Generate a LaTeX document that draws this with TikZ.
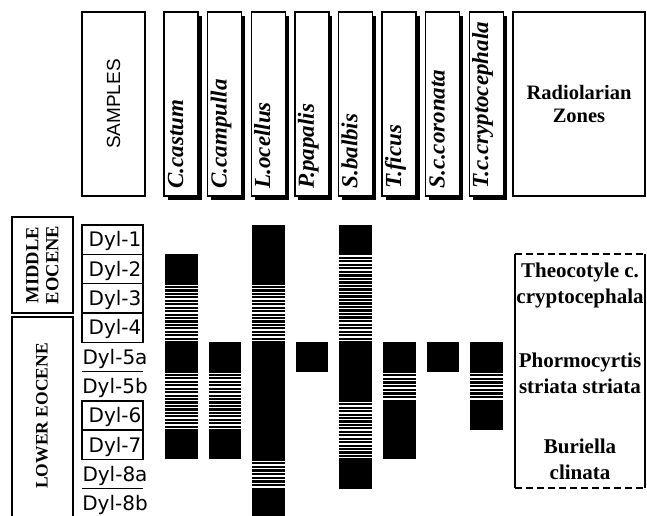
\documentclass[tikz,border=0pt]{standalone}
\usepackage{fontspec}
\setmainfont{Liberation Serif}
\newfontfamily\dylfont{DejaVu Sans}
\newfontfamily\sampfont{Liberation Sans}

\tikzset{
    spbox/.style={draw,line width=1.4pt,fill=white,inner sep=0pt,
        minimum width=34pt,minimum height=184pt},
    sptext/.style={rotate=90,anchor=base west,inner sep=0pt,
        font=\fontsize{23}{26}\selectfont\bfseries\itshape},
    dyl/.style={anchor=base,inner sep=0pt,font=\dylfont\fontsize{20}{22}\selectfont},
    epoch/.style={rotate=90,align=center,font=\fontsize{18.5}{20}\selectfont\bfseries},
    zone/.style={align=center,inner sep=0pt,font=\fontsize{21}{26}\selectfont\bfseries},
    bar/.style={fill=black},
    hatch/.style={draw=white,line width=1.3pt},
    frame/.style={line width=1.4pt},
}

\begin{document}
\begin{tikzpicture}[x=1pt,y=-1pt]
        \def\xcol{164}
        \def\dx{43.6}
        \def\ytop{225}
        \def\rowh{29.3}

        \useasboundingbox (0,0) rectangle (647,515);
        \clip (0,0) rectangle (647,515);

        % header boxes
        \node[draw,line width=1.4pt,inner sep=0pt,minimum width=63pt,minimum height=184pt]
            (samples) at (113.5,104) {};
        \node[rotate=90,font=\sampfont\fontsize{19}{21}\selectfont] at (samples) {SAMPLES};
        \foreach \i/\name in {0/C.castum,1/C.campulla,2/L.ocellus,3/P.papalis,
                4/S.balbis,5/T.ficus,6/S.c.coronata,7/T.c.cryptocephala}
        {
            \fill ({\xcol+3.5+\i*\dx},15.5) rectangle +(34,184);
            \node[spbox] (sp\i) at ({\xcol+17+\i*\dx},104) {};
            \node[sptext] at ([xshift=2pt,yshift=8pt]sp\i.south) {\name};
        }
        \node[draw,line width=1.4pt,minimum width=132pt,minimum height=184pt,align=center,
            font=\fontsize{20.5}{23}\selectfont\bfseries] (zones) at (579,104) {Radiolarian\\Zones};

        % epochs
        \node[draw,frame,inner sep=0pt,minimum width=61pt,minimum height=96pt] (middle) at (42.5,265) {};
        \node[epoch] at (middle) {MIDDLE\\EOCENE};
        \node[draw,frame,inner sep=0pt,minimum width=61pt,minimum height=250pt] (lower) at (42.5,442) {};
        \node[epoch,font=\fontsize{17.5}{20}\selectfont\bfseries] (lowerlab) at (42,416) {LOWER EOCENE};

        % samples
        \foreach \r in {0,1,2,3,6,7}
            \draw[frame] (82,{\ytop+\r*\rowh}) rectangle (143,{\ytop+(\r+1)*\rowh});
        \foreach \r in {5,9}
            \draw[frame] (82,{\ytop+\r*\rowh}) -- (143,{\ytop+\r*\rowh});
        \foreach \r/\lab in {0/Dyl-1,1/Dyl-2,2/Dyl-3,3/Dyl-4,4/Dyl-5a,
                5/Dyl-5b,6/Dyl-6,7/Dyl-7,8/Dyl-8a,9/Dyl-8b}
            \node[dyl] (d\r) at (115,{\ytop+(\r+0.5)*\rowh+7.3}) {\lab};

        % ranges, solid parts
        \foreach \c/\a/\b in {0/1/2,0/4/5,0/7/8,1/4/5,1/7/8,2/0/2,2/4/8,2/9/10,3/4/5,
                4/0/1,4/4/6,4/8/9,5/4/5,5/6/8,6/4/5,7/4/5,7/6/7}
            \fill[bar] ({\xcol+1+\c*\dx},{\ytop+\a*\rowh}) rectangle +(32.5,{(\b-\a)*\rowh});

        % ranges, hatched parts
        \foreach \c/\a/\b in {0/2/4,0/5/7,1/5/7,2/2/4,2/8/9,4/1/4,4/6/8,5/5/6,7/5/6}
        {
            \pgfmathsetmacro\xl{\xcol+1+\c*\dx}
            \pgfmathsetmacro\ya{\ytop+\a*\rowh}
            \pgfmathtruncatemacro\n{round((\b-\a)*\rowh/3.45)}
            \pgfmathsetmacro\sp{(\b-\a)*\rowh/\n}
            \fill[bar] (\xl,\ya) rectangle +(32.5,{(\b-\a)*\rowh});
            \foreach \k in {1,...,\n}
                \draw[hatch] (\xl,{\ya+(\k-0.5)*\sp}) -- +(32.5,0);
        }

        % zones
        \draw[line width=1.4pt] (515,254) -- (515,488);
        \draw[line width=1.4pt] (645,254) -- (645,488);
        \draw[line width=1.4pt,dash pattern=on 7pt off 4pt] (515,254) -- (645,254);
        \draw[line width=1.4pt,dash pattern=on 7pt off 4pt] (515,488) -- (645,488);
        \node[zone] (z1) at (580,285) {Theocotyle c.\\cryptocephala};
        \node[zone] (z2) at (580,373) {Phormocyrtis\\striata striata};
        \node[zone] (z3) at (580,459) {Buriella\\clinata};
\end{tikzpicture}
\end{document}
